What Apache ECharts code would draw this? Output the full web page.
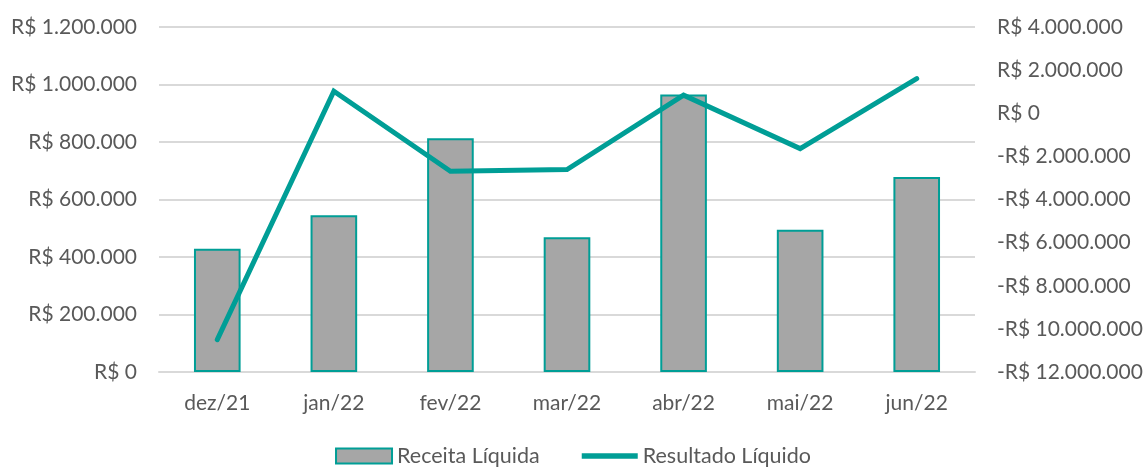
<!DOCTYPE html>
<html>
<head>
<meta charset="utf-8">
<script src="https://cdn.jsdelivr.net/npm/echarts@6/dist/echarts.min.js"></script>
<style>html,body{margin:0;padding:0;background:#fff}#c{width:1146px;height:467px}</style>
</head>
<body>
<div id="c"></div>
<script>
const categories = ['dez/21','jan/22','fev/22','mar/22','abr/22','mai/22','jun/22'];
const receitaLiquida = [429000, 545000, 813000, 469000, 965000, 495000, 678000];
const resultadoLiquido = [-10500000, 1020000, -2690000, -2610000, 840000, -1640000, 1610000];
const seriesNames = ['Receita Líquida', 'Resultado Líquido'];

function fmt(v){
  const neg = v < 0;
  const s = Math.abs(Math.round(v)).toString().replace(/\B(?=(\d{3})+(?!\d))/g, '.');
  return (neg ? '-' : '') + 'R$ ' + s;
}
const font = 'Lato, "Open Sans", sans-serif';
const txt = '#595959';
const teal = '#009E96';
const fs = 21;
const chart = echarts.init(document.getElementById('c'));
chart.setOption({
  animation: false,
  grid: {left: 159, right: 171, top: 27, bottom: 95, containLabel: false},
  legend: {
    top: 445, left: 'center', itemGap: 42, itemWidth: 56, itemHeight: 15, padding: 0,
    symbolKeepAspect: true,
    textStyle: {color: txt, fontSize: 21.5, fontFamily: font},
    data: [
      {name: seriesNames[0], icon: 'rect', itemStyle: {color: '#A6A6A6', borderColor: teal, borderWidth: 2}},
      {name: seriesNames[1], icon: 'path://M0,0 L60,0 L60,6 L0,6 Z', itemStyle: {color: teal, borderWidth: 0}}
    ]
  },
  xAxis: {
    type: 'category', data: categories,
    axisLine: {show: true, lineStyle: {color: '#D9D9D9', width: 2}},
    axisTick: {show: false},
    axisLabel: {color: txt, fontSize: fs, fontFamily: font, margin: 21}
  },
  yAxis: [
    {type: 'value', min: 0, max: 1200000, interval: 200000,
     axisLine: {show: false}, axisTick: {show: false},
     splitLine: {lineStyle: {color: '#D9D9D9', width: 2}},
     axisLabel: {color: txt, fontSize: fs, fontFamily: font, margin: 22, formatter: fmt}},
    {type: 'value', min: -12000000, max: 4000000, interval: 2000000, position: 'right',
     axisLine: {show: false}, axisTick: {show: false}, splitLine: {show: false},
     axisLabel: {color: txt, fontSize: fs, fontFamily: font, margin: 22, formatter: fmt}}
  ],
  series: [
    {name: seriesNames[0], type: 'bar', data: receitaLiquida, barWidth: '40%',
     itemStyle: {color: '#A6A6A6', borderColor: teal, borderWidth: 2}},
    {name: seriesNames[1], type: 'line', yAxisIndex: 1, data: resultadoLiquido,
     showSymbol: false, symbol: 'none',
     lineStyle: {color: teal, width: 5, cap: 'round', join: 'miter'},
     itemStyle: {color: teal}}
  ]
});
</script>
</body>
</html>
